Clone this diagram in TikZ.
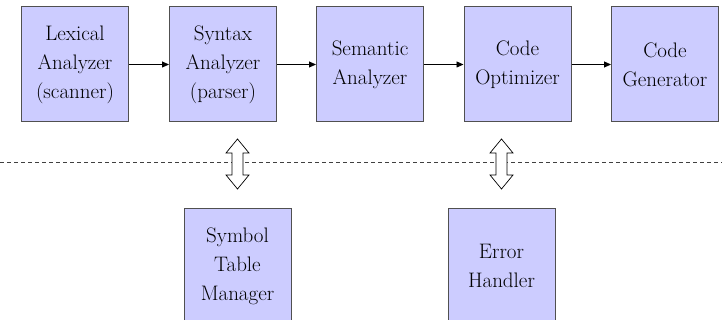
\documentclass[tikz,border=0pt]{standalone}
\usepackage{fontspec}
\usetikzlibrary{arrows.meta,calc}
\definecolor{boxfill}{HTML}{CCCCFF}
\definecolor{boxedge}{HTML}{505050}
\tikzset{
  phase/.style={draw=boxedge, line width=1pt, fill=boxfill, minimum width=107pt,
    minimum height=115pt, inner sep=0pt, align=center,
    font=\rmfamily\fontsize{21}{29}\selectfont},
  flow/.style={-{Triangle[length=7pt,width=6pt]}, line width=0.8pt},
  sep/.style={dashed, dash pattern=on 4pt off 3pt, line width=0.7pt, draw=black!75},
  link/.style={draw=black, line width=0.7pt, fill=white}
}
\newcommand{\dblarrow}[1]{%
  \path[link] ($(#1)+(0,-25)$) -- ++(11.5,14) -- ++(-6,0) -- ++(0,22) -- ++(6,0)
    -- ($(#1)+(0,25)$) -- ++(-11.5,-14) -- ++(6,0) -- ++(0,-22) -- ++(-6,0) -- cycle;}
\begin{document}
\begin{tikzpicture}[x=1pt,y=-1pt]
  \useasboundingbox (0,0) rectangle (722,320);
  \clip (0,0) rectangle (722,320);
  % analysis and synthesis phases
  \node[phase] (lex) at (75,64.5) {Lexical\\Analyzer\\(scanner)};
  \node[phase] (syn) at (223,64.5) {Syntax\\Analyzer\\(parser)};
  \node[phase] (sem) at (370,64.5) {Semantic\\Analyzer};
  \node[phase] (opt) at (517.5,64.5) {Code\\Optimizer};
  \node[phase] (gen) at (665,64.5) {Code\\Generator};
  \draw[flow] (lex) -- (syn);
  \draw[flow] (syn) -- (sem);
  \draw[flow] (sem) -- (opt);
  \draw[flow] (opt) -- (gen);
  % separator between the pipeline and the support modules
  \coordinate (sepL) at (0,162);
  \coordinate (sepR) at (722,162);
  \draw[sep] (sepL) -- (sepR);
  % support modules
  \node[phase] (sym) at (237.5,266) {Symbol\\Table\\Manager};
  \node[phase] (err) at (501.5,266) {Error\\Handler};
  % two-way links
  \coordinate (symlink) at (237.5,164);
  \coordinate (errlink) at (501.5,164);
  \dblarrow{symlink}
  \dblarrow{errlink}
\end{tikzpicture}
\end{document}
